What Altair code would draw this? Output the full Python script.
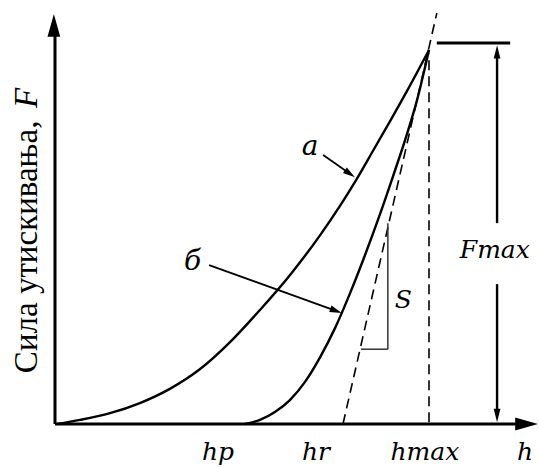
import altair as alt
import numpy as np
import pandas as pd

# Load–displacement diagram of an indentation test.
# h: indentation depth (hmax = 10), F: indentation force (Fmax = 10)

# loading branch "а"
load_h = [0.05, 0.67, 1.47, 2.27, 3.07, 3.88, 4.68, 5.48, 6.28, 7.09, 7.62, 8.05, 8.50, 8.96, 9.41, 10.0]
load_F = [0.0, 0.11, 0.29, 0.56, 0.94, 1.47, 2.19, 3.05, 3.98, 5.05, 5.83, 6.52, 7.30, 8.10, 8.90, 10.0]

# unloading branch "б"
unload_h = [5.08, 5.48, 5.88, 6.28, 6.68, 7.09, 7.49, 7.89, 8.29, 8.69, 9.04, 9.36, 9.68, 10.0]
unload_F = [0.0, 0.11, 0.32, 0.64, 1.12, 1.79, 2.57, 3.50, 4.52, 5.61, 6.63, 7.59, 8.66, 10.0]

H_MAX = 10.0
F_MAX = 10.0
H_R = 7.70            # intercept of the unloading tangent (stiffness S)
TANGENT_TOP = [10.21, 10.99]

# axis tick captions under the h axis
tick_names = ["hp", "hr", "hmax", "h"]
tick_pos = [4.36, 6.98, 9.89, 12.57]

X_DOMAIN = [-1.4706, 12.9412]
Y_DOMAIN = [-1.1765, 11.3369]
W, H = 539, 468

xs = alt.Scale(domain=X_DOMAIN, nice=False, zero=False)
ys = alt.Scale(domain=Y_DOMAIN, nice=False, zero=False)

SERIF = "'Liberation Serif', 'Times New Roman', serif"


def enc_xy(xf="h", yf="F"):
    return dict(x=alt.X(xf, type="quantitative", scale=xs, axis=None),
                y=alt.Y(yf, type="quantitative", scale=ys, axis=None))


def rules(rows, color="black", **style):
    df = pd.DataFrame(rows, columns=["h", "F", "h2", "F2"])
    return alt.Chart(df).mark_rule(color=color, **style).encode(
        **enc_xy(), x2="h2", y2="F2")


def heads(rows, path, size):
    # rows: tip h, tip F, direction dh, dF  -> arrowhead rotated along the direction
    df = pd.DataFrame(rows, columns=["h", "F", "dh", "dF"])
    df["ang"] = np.degrees(np.arctan2(df["dh"], df["dF"])) % 360
    return alt.Chart(df).mark_point(shape=path, filled=True, color="black",
                                    opacity=1, size=size, strokeWidth=0).encode(
        **enc_xy(), angle=alt.Angle("ang:Q", scale=None))


def texts(rows, **style):
    df = pd.DataFrame(rows, columns=["h", "F", "t"])
    return alt.Chart(df).mark_text(color="black", **style).encode(**enc_xy(), text="t:N")


curves = pd.concat([
    pd.DataFrame({"h": load_h, "F": load_F, "branch": "а"}),
    pd.DataFrame({"h": unload_h, "F": unload_F, "branch": "б"}),
])
curve_layer = alt.Chart(curves).mark_line(
    color="black", strokeWidth=2.4, interpolate="monotone").encode(
    **enc_xy(), detail="branch:N", order="h:Q")

# coordinate axes
axes = rules([[0, 0, 12.55, 0], [0, 0, 0, 10.45]], strokeWidth=3)
axis_heads = heads([[12.914, 0, 1, 0], [-0.03, 10.963, 0, 1]],
                   "M0,0 L0.56,2 L-0.56,2 Z", 520)

# dashed helper lines: hmax vertical and unloading tangent
dashed = rules([[H_MAX, 0.05, H_MAX, 9.9], [H_R, 0, TANGENT_TOP[0], TANGENT_TOP[1]]],
               strokeWidth=1.6, strokeDash=[10, 6])

# stiffness triangle S
tri = rules([[8.90, 5.37, 8.90, 2.0], [8.18, 2.0, 8.90, 2.0]],
            strokeWidth=1.5, color="#333333")

# Fmax dimension line
fmax_x = 11.82
fmax_lines = rules([[10.21, 10.19, 12.17, 10.19]], strokeWidth=3)
fmax_arrow = rules([[fmax_x, 9.9, fmax_x, 5.37], [fmax_x, 3.74, fmax_x, 0.3]], strokeWidth=2.4)
fmax_heads = heads([[fmax_x, 10.13, 0, 1], [fmax_x, 0.05, 0, -1]],
                   "M0,0 L0.5,2 L-0.5,2 Z", 180)

# pointers to the branches
a_from, a_to = (7.17, 7.19), (8.02, 6.60)
b_from, b_to = (4.12, 4.25), (7.67, 2.97)
pointer_lines = rules([[a_from[0], a_from[1], a_to[0] - 0.2, a_to[1] + 0.14],
                       [b_from[0], b_from[1], b_to[0] - 0.25, b_to[1] + 0.09]],
                      strokeWidth=1.8)
pointer_heads = heads([[a_to[0], a_to[1], a_to[0] - a_from[0], a_to[1] - a_from[1]],
                       [b_to[0], b_to[1], b_to[0] - b_from[0], b_to[1] - b_from[1]]],
                      "M0,0 L0.55,2 L-0.55,2 Z", 150)

italic = dict(font="DejaVu Serif", fontStyle="italic")
tick_text = texts([[p, -0.96, n] for p, n in zip(tick_pos, tick_names)],
                  fontSize=25, align="center", baseline="alphabetic", **italic)
other_text = texts([[11.76, 4.44, "Fmax"], [9.31, 3.10, "S"]],
                   fontSize=25, align="center", baseline="alphabetic", **italic)
branch_text = texts([[6.82, 7.19, "а"], [3.68, 4.12, "б"]],
                    fontSize=28, align="center", baseline="alphabetic", **italic)

ytitle = texts([[-0.48, 1.36, "Сила утискивања,"]], fontSize=33, angle=270,
               align="left", baseline="alphabetic", font=SERIF)
ytitle_f = texts([[-0.48, 8.45, "F"]], fontSize=33, angle=270, align="left",
                 baseline="alphabetic", font=SERIF, fontStyle="italic")

chart = alt.layer(
    dashed, tri, curve_layer, axes, axis_heads, fmax_lines, fmax_arrow, fmax_heads,
    pointer_lines, pointer_heads, tick_text, other_text, branch_text, ytitle, ytitle_f,
).properties(width=W, height=H, padding=0, autosize=alt.AutoSizeParams(type="none"),
             background="white").configure_view(stroke=None)

chart.save("out.html", embed_options={"renderer": "svg", "actions": False})
